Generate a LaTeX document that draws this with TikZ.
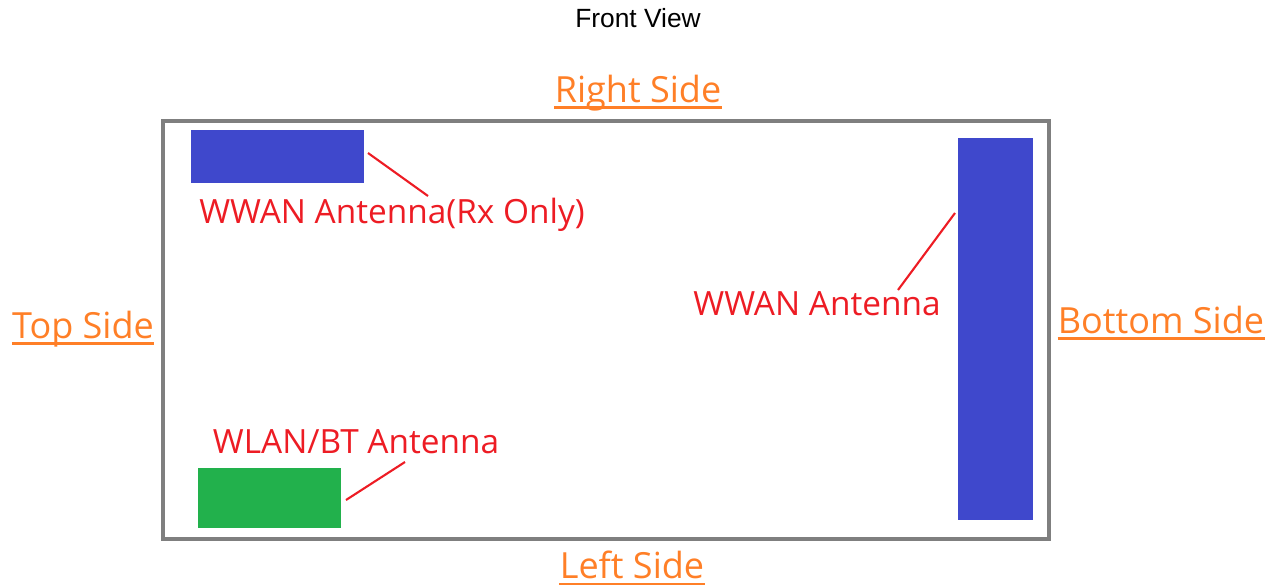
\documentclass[tikz,border=0pt]{standalone}
\usepackage{fontspec}
\setmainfont{Open Sans}
\newfontfamily\arialfont{Liberation Sans}
\usepackage{xcolor}
\usetikzlibrary{positioning, calc}

\definecolor{antblue}{RGB}{63,72,204}
\definecolor{antgreen}{RGB}{34,177,76}
\definecolor{labred}{RGB}{237,28,36}
\definecolor{sideorange}{RGB}{255,127,39}
\definecolor{framegray}{RGB}{127,127,127}

\begin{document}
\begin{tikzpicture}[
    x=0.02cm, y=-0.02cm,
    side/.style={text=sideorange, font=\fontsize{20.5}{24}\selectfont, inner sep=0pt},
    sideline/.style={draw=sideorange, line width=1.5pt},
    lab/.style={text=labred, font=\fontsize{19}{22}\selectfont, inner sep=1pt},
    lead/.style={draw=labred, line width=1.2pt}
]
\useasboundingbox (0,0) rectangle (1279,586);

% Title
\node[font=\arialfont\fontsize{15}{18}\selectfont] (title) at (638,18) {Front View};

% Device outline
\draw[framegray, line width=2.2pt] (163,121) rectangle (1049,539);

% Side labels
\node[side] (right) at (638,93) {Right Side};
\node[side] (top) at (83,329) {Top Side};
\node[side] (bottom) at (1161,320) {Bottom Side};
\node[side] (left) at (632,565) {Left Side};
\foreach \s in {right,top,bottom,left}
  \draw[sideline] ([yshift=-3pt]\s.base west) -- ([yshift=-3pt]\s.base east);

% Antennas
\fill[antblue] (191,130) rectangle (364,183);
\coordinate (rxend) at (368,153);
\fill[antblue] (958,138) rectangle (1033,520);
\coordinate (mainend) at (955,213);
\fill[antgreen] (198,468) rectangle (341,528);
\coordinate (wlanend) at (346,500);

% Labels
\node[lab] (rxlab) at (392,215) {WWAN Antenna(Rx Only)};
\node[lab] (mainlab) at (817,304) {WWAN Antenna};
\node[lab] (wlanlab) at (356,442) {WLAN/BT Antenna};

% Leader lines
\coordinate (rxstart) at (428,196);
\coordinate (mainstart) at (898,290);
\coordinate (wlanstart) at (405,462);
\draw[lead] (rxend) -- (rxstart);
\draw[lead] (mainstart) -- (mainend);
\draw[lead] (wlanend) -- (wlanstart);

\end{tikzpicture}
\end{document}
